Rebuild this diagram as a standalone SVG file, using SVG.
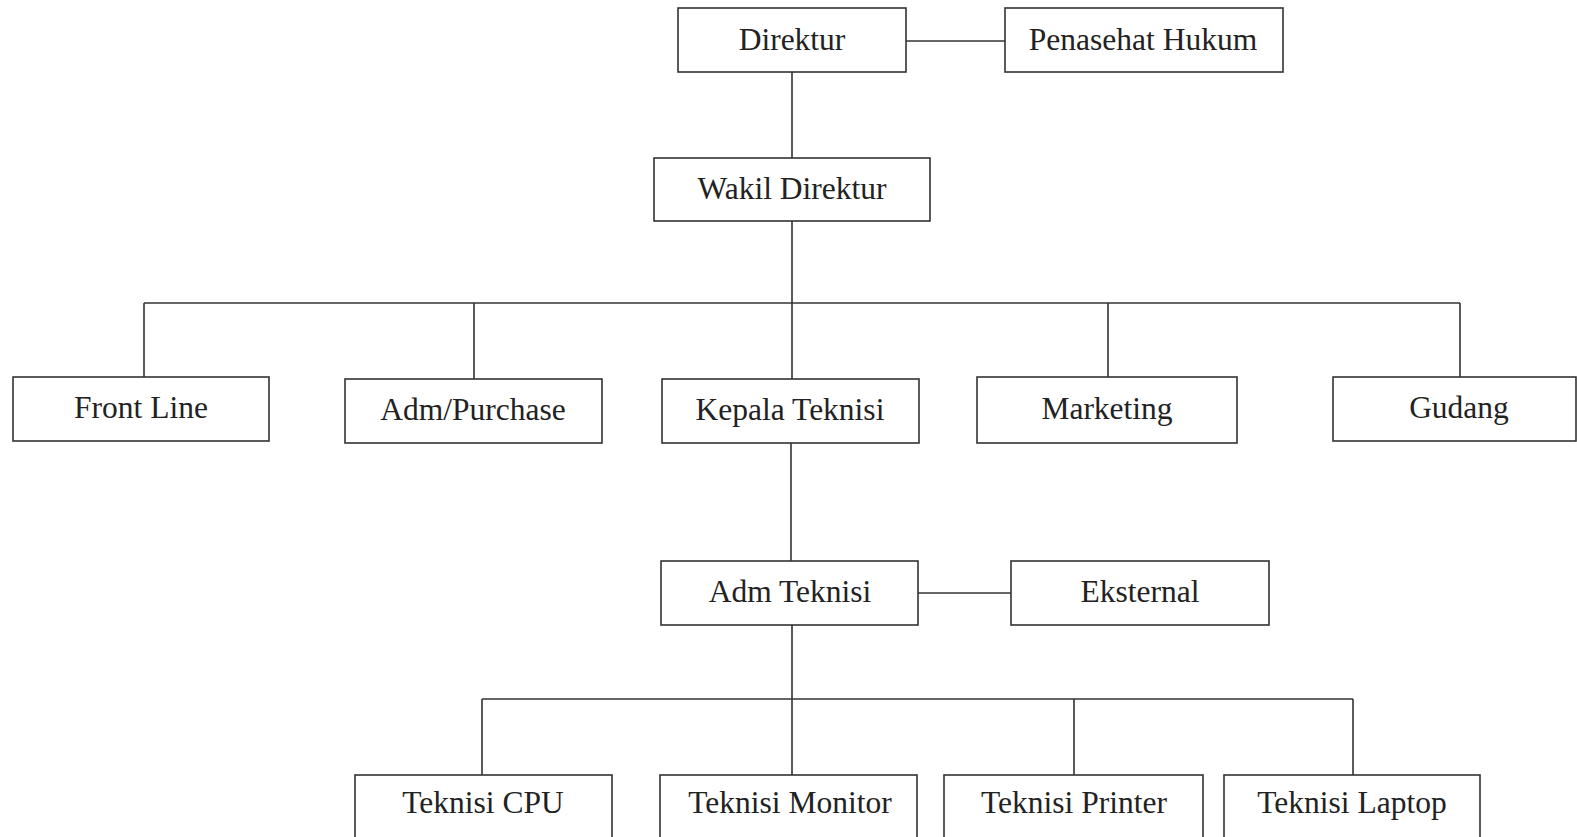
<svg xmlns="http://www.w3.org/2000/svg" width="1577" height="837" viewBox="0 0 1577 837">
<style>
.box{fill:#fff;stroke:#333;stroke-width:1.6}
.lbl{font-family:"Liberation Serif","Times New Roman",serif;font-size:31.5px;fill:#222;text-anchor:middle}
.con{fill:none;stroke:#333;stroke-width:1.6}
</style>
<rect width="1577" height="837" fill="#fff"/>
<g id="connectors">
<path class="con" d="M906 41H1005"/>
<path class="con" d="M792 72V158"/>
<path class="con" d="M792 221V303"/>
<path class="con" d="M144 303H1460"/>
<path class="con" d="M144 303V377M474 303V379M792 303V379M1108 303V377M1460 303V377"/>
<path class="con" d="M791 441V561"/>
<path class="con" d="M918 593H1011"/>
<path class="con" d="M792 625V699"/>
<path class="con" d="M482 699H1353"/>
<path class="con" d="M482 699V775M792 699V775M1074 699V775M1353 699V775"/>
</g>
<g id="direktur"><rect class="box" x="678" y="8" width="228" height="64"/><text class="lbl" x="792" y="50">Direktur</text></g>
<g id="penasehat"><rect class="box" x="1005" y="8" width="278" height="64"/><text class="lbl" x="1143" y="50">Penasehat Hukum</text></g>
<g id="wakil"><rect class="box" x="654" y="158" width="276" height="63"/><text class="lbl" x="792" y="199">Wakil Direktur</text></g>
<g id="frontline"><rect class="box" x="13" y="377" width="256" height="64"/><text class="lbl" x="141" y="418">Front Line</text></g>
<g id="admpurchase"><rect class="box" x="345" y="379" width="257" height="64"/><text class="lbl" x="473" y="420">Adm/Purchase</text></g>
<g id="kepalateknisi"><rect class="box" x="662" y="379" width="257" height="64"/><text class="lbl" x="790" y="420">Kepala Teknisi</text></g>
<g id="marketing"><rect class="box" x="977" y="377" width="260" height="66"/><text class="lbl" x="1107" y="419">Marketing</text></g>
<g id="gudang"><rect class="box" x="1333" y="377" width="243" height="64"/><text class="lbl" x="1459" y="418">Gudang</text></g>
<g id="admteknisi"><rect class="box" x="661" y="561" width="257" height="64"/><text class="lbl" x="790" y="602">Adm Teknisi</text></g>
<g id="eksternal"><rect class="box" x="1011" y="561" width="258" height="64"/><text class="lbl" x="1140" y="602">Eksternal</text></g>
<g id="teknisicpu"><rect class="box" x="355" y="775" width="257" height="80"/><text class="lbl" x="483" y="813">Teknisi CPU</text></g>
<g id="teknisimonitor"><rect class="box" x="660" y="775" width="257" height="80"/><text class="lbl" x="790" y="813">Teknisi Monitor</text></g>
<g id="teknisiprinter"><rect class="box" x="944" y="775" width="259" height="80"/><text class="lbl" x="1074" y="813">Teknisi Printer</text></g>
<g id="teknisilaptop"><rect class="box" x="1224" y="775" width="256" height="80"/><text class="lbl" x="1352" y="813">Teknisi Laptop</text></g>
</svg>
